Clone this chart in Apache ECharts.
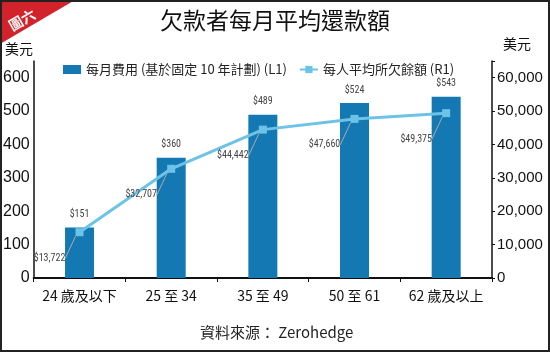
<!DOCTYPE html>
<html><head><meta charset="utf-8">
<script src="https://cdn.jsdelivr.net/npm/echarts@6/dist/echarts.min.js"></script>
<style>html,body{margin:0;padding:0;background:#fff}#c{width:550px;height:352px}</style>
</head><body><div id="c"></div>
<script>
const categories = ['24 歲及以下', '25 至 34', '35 至 49', '50 至 61', '62 歲及以上'];
const monthlyPayment = [151, 360, 489, 524, 543];
const avgBalance = [13722, 32707, 44442, 47660, 49375];
const leftTicks = [0, 100, 200, 300, 400, 500, 600];
const rightTicks = [0, 10000, 20000, 30000, 40000, 50000, 60000];

const F = '"Liberation Sans", Arial, "Noto Sans CJK TC", sans-serif';
const FC = '"Noto Sans CJK TC", "Liberation Sans", sans-serif';
const FN = '"Liberation Sans Narrow", "Roboto Condensed", "Liberation Sans", sans-serif';
const chart = echarts.init(document.getElementById('c'));
chart.setOption({
  animation: false,
  title: {text: '欠款者每月平均還款額', left: 'center', top: 4,
    textStyle: {fontFamily: FC, fontSize: 23, fontWeight: 'normal', color: '#111'}},
  legend: {top: 58, left: 58, itemGap: 12, itemWidth: 18, itemHeight: 9,
    textStyle: {fontFamily: FC, fontSize: 13, color: '#222'},
    data: [{name: '每月費用 (基於固定 10 年計劃) (L1)', icon: 'rect'}, {name: '每人平均所欠餘額 (R1)'}]},
  grid: {left: 30, right: 58, top: 61, bottom: 74},
  xAxis: {type: 'category', data: categories,
    axisLine: {lineStyle: {color: '#111', width: 2}},
    axisTick: {show: true, length: 4, lineStyle: {color: '#111'}},
    axisLabel: {interval: 0, fontFamily: FC, fontSize: 14, color: '#111', margin: 11}},
  yAxis: [
    {type: 'value', min: 0, max: 650, interval: 100, position: 'left',
      axisLine: {show: true, lineStyle: {color: '#111', width: 1.5}},
      axisTick: {show: false}, splitLine: {show: false},
      axisLabel: {fontFamily: F, fontSize: 16, color: '#111', margin: 4,
        formatter: v => leftTicks.includes(v) ? String(v) : ''}},
    {type: 'value', min: 0, max: 65000, interval: 10000, position: 'right',
      axisLine: {show: true, lineStyle: {color: '#111', width: 1.5}},
      axisTick: {show: true, length: 3, inside: false, lineStyle: {color: '#111'}},
      splitLine: {show: false},
      axisLabel: {fontFamily: F, fontSize: 15, color: '#111', margin: 5,
        formatter: v => rightTicks.includes(v) ? v.toLocaleString('en-US') : ''}}
  ],
  series: [
    {name: '每月費用 (基於固定 10 年計劃) (L1)', type: 'bar', yAxisIndex: 0,
      data: monthlyPayment, barWidth: 29, itemStyle: {color: '#1479b3'},
      label: {show: true, position: 'top', distance: 8, formatter: p => '$' + p.value,
        fontFamily: FN, fontSize: 10, color: '#444'}},
    {name: '每人平均所欠餘額 (R1)', type: 'line', yAxisIndex: 1,
      data: avgBalance, symbol: 'rect', symbolSize: 8,
      lineStyle: {color: '#6cc3e6', width: 3}, itemStyle: {color: '#6cc3e6'},
      label: {show: true, position: 'inside', formatter: p => '$' + p.value.toLocaleString('en-US'),
        fontFamily: FN, fontSize: 10, color: '#444'},
      labelLayout: {dx: -30, dy: 26},
      labelLine: {show: true, lineStyle: {color: '#aaa', width: 1}}}
  ],
  graphic: [
    {type: 'rect', shape: {x: 1, y: 1, width: 548, height: 350}, style: {fill: 'none', stroke: '#222', lineWidth: 2}, z: 100},
    {type: 'polygon', shape: {points: [[0,0],[75,0],[0,44]]}, style: {fill: '#d2232a'}, z: 99},
    {type: 'text', x: 22, y: 20, rotation: Math.PI/6, style: {text: '圖六', font: 'bold 14px "Noto Sans CJK TC"', fill: '#fff', textAlign: 'center', textVerticalAlign: 'middle'}, z: 101},
    {type: 'text', left: 5, top: 42, style: {text: '美元', font: '14px "Noto Sans CJK TC"', fill: '#111'}},
    {type: 'text', left: 503, top: 37, style: {text: '美元', font: '14px "Noto Sans CJK TC"', fill: '#111'}},
    {type: 'text', left: 200, top: 325, style: {text: '資料來源： Zerohedge', font: '15px "Noto Sans CJK TC", "Liberation Sans"', fill: '#222'}}
  ]
});
</script></body></html>
